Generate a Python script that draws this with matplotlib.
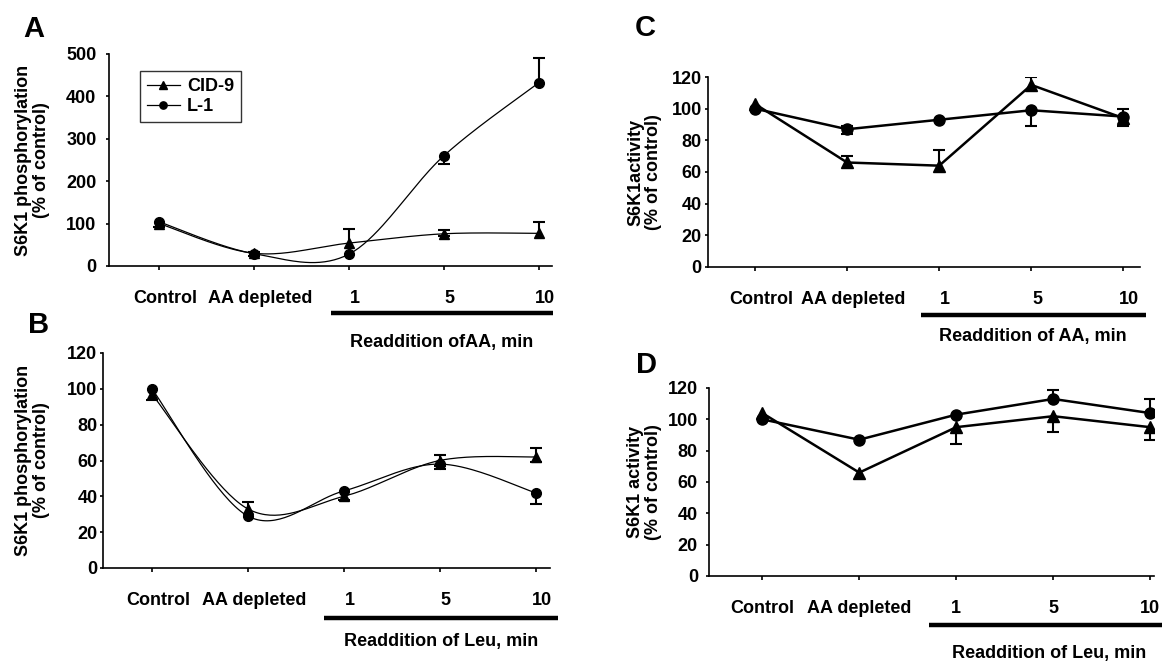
import numpy as np
import matplotlib
matplotlib.use("Agg")
import matplotlib.pyplot as plt
from matplotlib.transforms import blended_transform_factory, ScaledTranslation

plt.rcParams['font.family'] = ['Liberation Sans', 'DejaVu Sans']
plt.rcParams['font.weight'] = 'bold'

# ---------------- data ----------------
categories = ["Control", "AA depleted", "1", "5", "10"]
series_names = ["CID-9", "L-1"]

# Panel A: S6K1 phosphorylation, readdition of AA
a_cid9 = [100, 30, 54, 76, 77]
a_cid9_up = [0, 0, 33, 10, 26]
a_cid9_lo = [8, 0, 0, 5, 0]
a_l1 = [104, 29, 28, 260, 432]
a_l1_up = [0, 5, 0, 0, 58]
a_l1_lo = [0, 5, 0, 20, 0]

# Panel B: S6K1 phosphorylation, readdition of Leu
b_cid9 = [97, 33, 40, 60, 62]
b_cid9_up = [0, 4, 0, 3, 5]
b_cid9_lo = [3, 0, 2, 3, 3]
b_l1 = [100, 29, 43, 58, 42]
b_l1_up = [0, 0, 0, 0, 0]
b_l1_lo = [0, 0, 0, 3, 6]

# Panel C: S6K1 activity, readdition of AA
c_cid9 = [103, 66, 64, 115, 94]
c_cid9_up = [0, 4, 10, 5, 0]
c_cid9_lo = [0, 0, 0, 0, 0]
c_l1 = [100, 87, 93, 99, 95]
c_l1_up = [0, 2, 0, 0, 5]
c_l1_lo = [0, 3, 0, 10, 6]

# Panel D: S6K1 activity, readdition of Leu
d_cid9 = [104, 66, 95, 102, 95]
d_cid9_up = [0, 0, 0, 0, 0]
d_cid9_lo = [0, 0, 11, 10, 8]
d_l1 = [100, 87, 103, 113, 104]
d_l1_up = [0, 0, 0, 6, 9]
d_l1_lo = [0, 0, 0, 0, 0]

# ---------------- helpers ----------------
def excel_smooth(xs, ys, n=40):
    xs = np.asarray(xs, float); ys = np.asarray(ys, float)
    px = np.concatenate([[xs[0]], xs, [xs[-1]]])
    py = np.concatenate([[ys[0]], ys, [ys[-1]]])
    outx, outy = [], []
    t = np.linspace(0, 1, n)
    for i in range(1, len(px) - 2):
        p0x, p1x, p2x, p3x = px[i-1], px[i], px[i+1], px[i+2]
        p0y, p1y, p2y, p3y = py[i-1], py[i], py[i+1], py[i+2]
        c1x = p1x + (p2x - p0x) / 6; c1y = p1y + (p2y - p0y) / 6
        c2x = p2x - (p3x - p1x) / 6; c2y = p2y - (p3y - p1y) / 6
        bx = (1-t)**3*p1x + 3*(1-t)**2*t*c1x + 3*(1-t)*t**2*c2x + t**3*p2x
        by = (1-t)**3*p1y + 3*(1-t)**2*t*c1y + 3*(1-t)*t**2*c2y + t**3*p2y
        outx.append(bx); outy.append(by)
    return np.concatenate(outx), np.concatenate(outy)


def errs(ax, x, y, up, lo, lw, cap):
    x = np.asarray(x, float); y = np.asarray(y, float)
    up = np.asarray(up, float); lo = np.asarray(lo, float)
    m = up > 0
    if m.any():
        ax.vlines(x[m], y[m], y[m] + up[m], color='black', lw=lw, zorder=3)
        ax.plot(x[m], y[m] + up[m], ls='none', marker='_', ms=cap, mew=lw,
                color='black', zorder=3)
    m = lo > 0
    if m.any():
        ax.vlines(x[m], y[m] - lo[m], y[m], color='black', lw=lw, zorder=3)
        ax.plot(x[m], y[m] - lo[m], ls='none', marker='_', ms=cap, mew=lw,
                color='black', zorder=3)


def panel(rect, letter, letter_xy, cid, cid_up, cid_lo, l1, l1_up, l1_lo,
          ymax, ystep, ylabel, ylabel_x, ypad, smooth, lw, ms, xlim,
          bar_x, bar_y, txt, txt_y, xoff=6, legend=False):
    ax = fig.add_axes(rect)
    x = np.arange(len(categories))
    handles = []
    for vals, up, lo, mk, name in [(cid, cid_up, cid_lo, '^', series_names[0]),
                                   (l1, l1_up, l1_lo, 'o', series_names[1])]:
        if smooth:
            sx, sy = excel_smooth(x, vals)
        else:
            sx, sy = x, np.asarray(vals, float)
        ax.plot(sx, sy, color='black', lw=lw, zorder=2)
        ax.plot(x, vals, ls='none', marker=mk, ms=ms, color='black', zorder=4)
        h, = ax.plot([], [], color='black', lw=lw, marker=mk, ms=ms * 0.75,
                     label=name)
        handles.append(h)
        errs(ax, x, vals, up, lo, 1.5, 9)
    ax.set_xlim(*xlim)
    ax.set_ylim(0, ymax)
    ax.set_yticks(np.arange(0, ymax + 1, ystep))
    ax.set_xticks(x)
    ax.set_xticklabels(categories)
    for s in ['top', 'right']:
        ax.spines[s].set_visible(False)
    for s in ['left', 'bottom']:
        ax.spines[s].set_linewidth(1.2)
    ax.tick_params(axis='both', direction='out', width=1.2, labelsize=13)
    ax.tick_params(axis='x', length=3, pad=14)
    ax.tick_params(axis='y', length=2.5, pad=ypad)
    off = ScaledTranslation(xoff / 100, 0, fig.dpi_scale_trans)
    for lab in ax.get_xticklabels():
        lab.set_transform(lab.get_transform() + off)
        lab.set_fontweight('bold')
    for lab in ax.get_yticklabels():
        lab.set_fontweight('bold')
    ax.set_ylabel(ylabel, fontsize=13, fontweight='bold', linespacing=1.05)
    ax.yaxis.set_label_coords(ylabel_x, 0.5)
    tr = blended_transform_factory(ax.transData, ax.transAxes)
    ax.plot(bar_x, [bar_y, bar_y], color='black', lw=3.2, transform=tr,
            clip_on=False, solid_capstyle='butt')
    ax.text(np.mean(bar_x), txt_y, txt, transform=tr, ha='center',
            va='center', fontsize=13, fontweight='bold')
    fig.text(letter_xy[0] / 1162, 1 - letter_xy[1] / 661, letter,
             fontsize=21, fontweight='bold', ha='center', va='center')
    if legend:
        leg = ax.legend(handles=handles, loc='upper left',
                        bbox_to_anchor=(0.07, 0.92), borderaxespad=0,
                        fontsize=13, frameon=True, fancybox=False,
                        edgecolor='black', handlelength=1.8,
                        handletextpad=0.4, borderpad=0.4, labelspacing=0.15)
        leg.get_frame().set_linewidth(1.0)
        for t in leg.get_texts():
            t.set_fontweight('bold')
    return ax


fig = plt.figure(figsize=(11.62, 6.61), dpi=100)

panel([109 / 1162, 1 - 266 / 661, 443 / 1162, 212 / 661], "A", (34, 29),
      a_cid9, a_cid9_up, a_cid9_lo, a_l1, a_l1_up, a_l1_lo,
      500, 100, "S6K1 phosphorylation\n(% of control)", -0.133, 6.5,
      True, 0.9, 7, (-0.53, 4.14), [1.81, 4.15], -0.222,
      "Readdition ofAA, min", -0.363, legend=True)

panel([103 / 1162, 1 - 568 / 661, 447 / 1162, 215 / 661], "B", (39, 325),
      b_cid9, b_cid9_up, b_cid9_lo, b_l1, b_l1_up, b_l1_lo,
      120, 20, "S6K1 phosphorylation\n(% of control)", -0.119, 1.5,
      True, 0.9, 7, (-0.51, 4.15), [1.79, 4.23], -0.233,
      "Readdition of Leu, min", -0.344)

panel([708 / 1162, 1 - 267 / 661, 432 / 1162, 190 / 661], "C", (645, 28),
      c_cid9, c_cid9_up, c_cid9_lo, c_l1, c_l1_up, c_l1_lo,
      120, 20, "S6K1activity\n(% of control)", -0.106, 2,
      False, 1.8, 8, (-0.51, 4.18), [1.80, 4.24], -0.253,
      "Readdition of AA, min", -0.368)

panel([709 / 1162, 1 - 576 / 661, 445 / 1162, 188 / 661], "D", (646, 365),
      d_cid9, d_cid9_up, d_cid9_lo, d_l1, d_l1_up, d_l1_lo,
      120, 20, "S6K1 activity\n(% of control)", -0.106, 5.5,
      False, 1.8, 8, (-0.55, 4.04), [1.72, 4.2], -0.261,
      "Readdition of Leu, min", -0.41, xoff=0)

fig.savefig("out.png", dpi=100)
